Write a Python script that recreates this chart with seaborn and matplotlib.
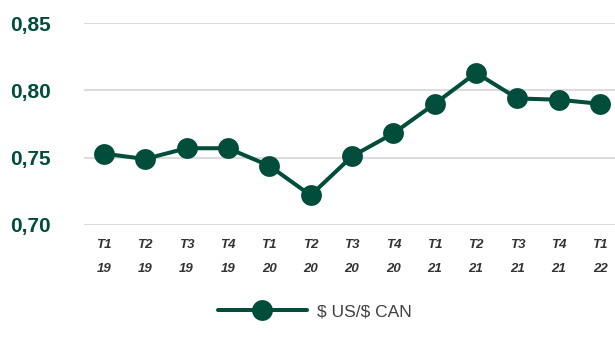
import matplotlib
matplotlib.use("Agg")
import matplotlib.pyplot as plt
import seaborn as sns
import pandas as pd

quarters = ["T1\n19", "T2\n19", "T3\n19", "T4\n19", "T1\n20", "T2\n20", "T3\n20",
            "T4\n20", "T1\n21", "T2\n21", "T3\n21", "T4\n21", "T1\n22"]
values = [0.753, 0.749, 0.757, 0.757, 0.744, 0.722, 0.751, 0.768, 0.790, 0.813, 0.794, 0.793, 0.790]
yticks = [0.70, 0.75, 0.80, 0.85]
ytick_labels = ["0,70", "0,75", "0,80", "0,85"]
series_name = "$ US/$ CAN"

sns.set_theme(style="white")
plt.rcParams['font.family'] = ['Liberation Sans', 'DejaVu Sans']

green = "#004d3b"
df = pd.DataFrame({"x": range(len(quarters)), "y": values})

fig = plt.figure(figsize=(6.15, 3.47), dpi=100)
ax = fig.add_axes([0.1366, 0.3516, 0.8634, 0.5821])
sns.lineplot(data=df, x="x", y="y", ax=ax, color=green, linewidth=2.9,
             marker="o", markersize=15, markeredgewidth=0,
             label=series_name.replace("$", r"\$"), zorder=3)

ax.set_ylim(0.70, 0.85)
ax.set_xlim(-0.48, 12.36)
ax.set_yticks(yticks)
ax.set_yticklabels(ytick_labels, fontsize=15, fontweight="bold", color=green)
ax.set_xticks(range(len(quarters)))
ax.set_xticklabels(quarters, fontsize=9.5, fontstyle="italic", fontweight="bold",
                   color="#333333", linespacing=2.35)
ax.tick_params(axis="x", length=0, pad=10)
ax.set_xlabel("")
ax.set_ylabel("")
for s in ax.spines.values():
    s.set_visible(False)
ax.yaxis.grid(True, color="#dcdcdc", linewidth=1.5, zorder=0)
ax.xaxis.grid(False)
ax.set_axisbelow(True)
for lbl in ax.get_yticklabels():
    lbl.set_horizontalalignment("left")
ax.tick_params(axis="y", length=0, pad=53)

ax.get_legend().remove()
handles, labels = ax.get_legend_handles_labels()
fig.legend(handles, labels, loc="center", bbox_to_anchor=(0.512, 0.102),
           frameon=False, fontsize=12.5, handlelength=5.1, labelcolor="#404040",
           handletextpad=0.6, markerscale=1.0)

fig.savefig("out.png", dpi=100)
